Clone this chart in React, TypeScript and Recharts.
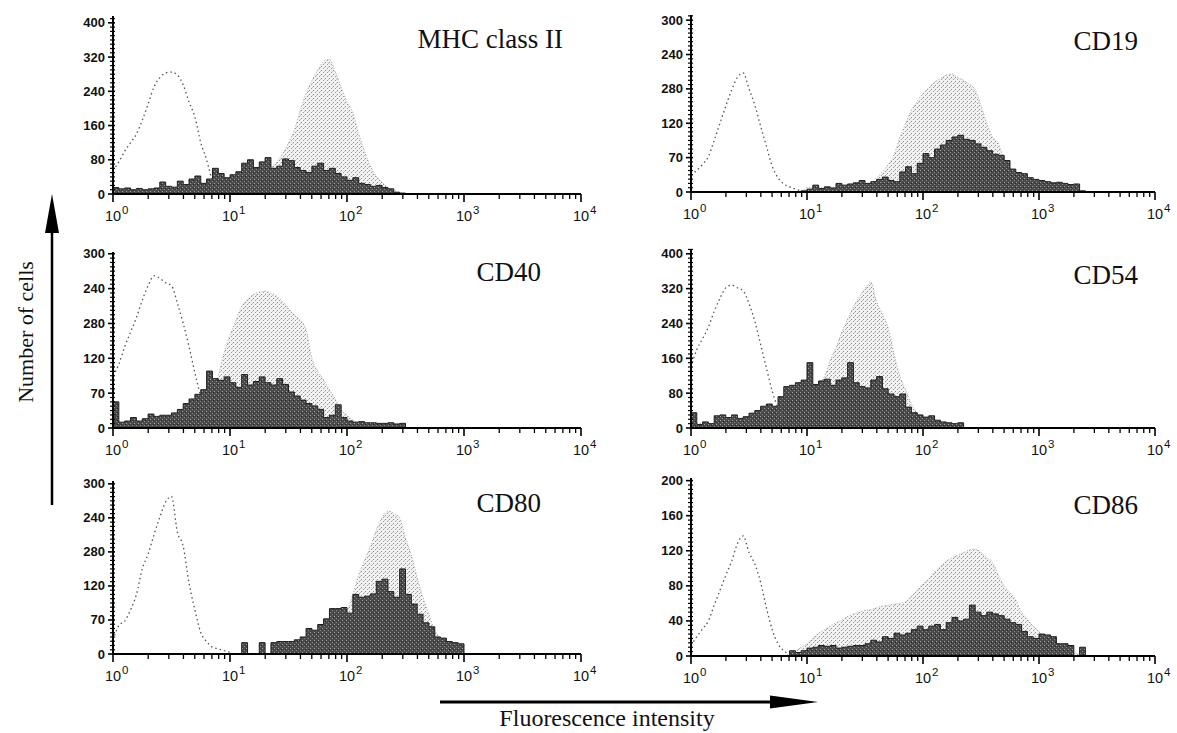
import React from 'react';
import { ComposedChart, Area, Line, XAxis, YAxis } from 'recharts';

// log10 of fluorescence intensity (channel centres)
const logIntensity = [
  0, 0.05, 0.1, 0.15, 0.2, 0.25, 0.3, 0.35, 0.4, 0.45,
  0.5, 0.55, 0.6, 0.65, 0.7, 0.75, 0.8, 0.85, 0.9, 0.95,
  1, 1.05, 1.1, 1.15, 1.2, 1.25, 1.3, 1.35, 1.4, 1.45,
  1.5, 1.55, 1.6, 1.65, 1.7, 1.75, 1.8, 1.85, 1.9, 1.95,
  2, 2.05, 2.1, 2.15, 2.2, 2.25, 2.3, 2.35, 2.4, 2.45,
  2.5, 2.55, 2.6, 2.65, 2.7, 2.75, 2.8, 2.85, 2.9, 2.95,
  3, 3.05, 3.1, 3.15, 3.2, 3.25, 3.3, 3.35, 3.4, 3.45,
  3.5, 3.55, 3.6, 3.65, 3.7, 3.75, 3.8, 3.85, 3.9, 3.95,
  4,
];

const mhcControl = [
  55, 75, 100, 120, 140, 172, 210, 250, 272, 283,
  285, 278, 255, 215, 180, 120, 80, 30, 8, 0,
  0, 0, 0, 0, 0, 0, 0, 0, 0, 0,
  0, 0, 0, 0, 0, 0, 0, 0, 0, 0,
  0, 0, 0, 0, 0, 0, 0, 0, 0, 0,
  0, 0, 0, 0, 0, 0, 0, 0, 0, 0,
  0, 0, 0, 0, 0, 0, 0, 0, 0, 0,
  0, 0, 0, 0, 0, 0, 0, 0, 0, 0,
  0,
];
const mhcStimulated = [
  0, 0, 0, 0, 0, 0, 0, 0, 0, 0,
  0, 0, 0, 0, 0, 0, 0, 20, 30, 30,
  30, 30, 30, 30, 30, 30, 30, 60, 75, 95,
  120, 150, 195, 235, 265, 290, 310, 315, 285, 250,
  215, 190, 140, 100, 66, 42, 28, 15, 8, 4,
  2, 0, 0, 0, 0, 0, 0, 0, 0, 0,
  0, 0, 0, 0, 0, 0, 0, 0, 0, 0,
  0, 0, 0, 0, 0, 0, 0, 0, 0, 0,
  0,
];
const mhcTreated = [
  15, 12, 14, 10, 13, 10, 12, 14, 28, 18,
  16, 30, 22, 35, 42, 25, 35, 60, 48, 38,
  45, 52, 72, 80, 62, 75, 85, 60, 65, 82,
  78, 62, 55, 50, 65, 72, 55, 60, 48, 40,
  32, 38, 25, 22, 18, 20, 15, 12, 4, 2,
  0, 0, 0, 0, 0, 0, 0, 0, 0, 0,
  0, 0, 0, 0, 0, 0, 0, 0, 0, 0,
  0, 0, 0, 0, 0, 0, 0, 0, 0, 0,
  0,
];

const cd19Control = [
  30, 38, 48, 62, 90, 120, 150, 178, 200, 208,
  180, 152, 115, 80, 45, 25, 14, 9, 5, 2,
  0, 0, 0, 0, 0, 0, 0, 0, 0, 0,
  0, 0, 0, 0, 0, 0, 0, 0, 0, 0,
  0, 0, 0, 0, 0, 0, 0, 0, 0, 0,
  0, 0, 0, 0, 0, 0, 0, 0, 0, 0,
  0, 0, 0, 0, 0, 0, 0, 0, 0, 0,
  0, 0, 0, 0, 0, 0, 0, 0, 0, 0,
  0,
];
const cd19Stimulated = [
  0, 0, 0, 0, 0, 0, 0, 0, 0, 0,
  0, 0, 0, 0, 0, 0, 0, 0, 0, 0,
  8, 8, 8, 8, 8, 8, 8, 8, 8, 8,
  8, 15, 25, 35, 48, 65, 95, 120, 143, 158,
  172, 182, 192, 198, 204, 206, 200, 195, 188, 178,
  150, 120, 96, 85, 55, 32, 20, 15, 12, 10,
  8, 6, 4, 2, 0, 0, 0, 0, 0, 0,
  0, 0, 0, 0, 0, 0, 0, 0, 0, 0,
  0,
];
const cd19Treated = [
  0, 0, 0, 0, 0, 0, 0, 0, 0, 0,
  0, 0, 0, 0, 0, 0, 0, 0, 0, 2,
  5, 12, 6, 9, 7, 15, 12, 14, 16, 20,
  15, 18, 22, 26, 20, 18, 35, 44, 32, 50,
  67, 60, 75, 82, 90, 96, 99, 92, 90, 84,
  78, 72, 66, 64, 55, 40, 34, 32, 25, 22,
  20, 18, 16, 17, 15, 13, 14, 2, 0, 0,
  0, 0, 0, 0, 0, 0, 0, 0, 0, 0,
  0,
];

const cd40Control = [
  90, 110, 140, 165, 190, 220, 245, 262, 258, 250,
  245, 215, 180, 140, 95, 55, 30, 12, 4, 0,
  0, 0, 0, 0, 0, 0, 0, 0, 0, 0,
  0, 0, 0, 0, 0, 0, 0, 0, 0, 0,
  0, 0, 0, 0, 0, 0, 0, 0, 0, 0,
  0, 0, 0, 0, 0, 0, 0, 0, 0, 0,
  0, 0, 0, 0, 0, 0, 0, 0, 0, 0,
  0, 0, 0, 0, 0, 0, 0, 0, 0, 0,
  0,
];
const cd40Stimulated = [
  10, 10, 10, 10, 10, 10, 10, 10, 10, 10,
  10, 10, 10, 10, 10, 10, 30, 55, 90, 130,
  160, 185, 210, 222, 230, 234, 236, 232, 227, 218,
  206, 195, 186, 170, 120, 98, 83, 66, 50, 32,
  22, 14, 8, 4, 0, 0, 0, 0, 0, 0,
  0, 0, 0, 0, 0, 0, 0, 0, 0, 0,
  0, 0, 0, 0, 0, 0, 0, 0, 0, 0,
  0, 0, 0, 0, 0, 0, 0, 0, 0, 0,
  0,
];
const cd40Treated = [
  45, 10, 12, 18, 12, 16, 24, 20, 22, 22,
  26, 32, 42, 50, 58, 66, 98, 85, 82, 88,
  78, 70, 92, 74, 80, 88, 78, 74, 85, 75,
  62, 55, 48, 42, 38, 32, 18, 22, 40, 18,
  12, 10, 11, 9, 9, 8, 8, 9, 7, 8,
  0, 0, 0, 0, 0, 0, 0, 0, 0, 0,
  0, 0, 0, 0, 0, 0, 0, 0, 0, 0,
  0, 0, 0, 0, 0, 0, 0, 0, 0, 0,
  0,
];

const cd54Control = [
  140, 180, 205, 232, 268, 298, 322, 328, 322, 315,
  286, 245, 192, 138, 85, 45, 20, 8, 2, 0,
  0, 0, 0, 0, 0, 0, 0, 0, 0, 0,
  0, 0, 0, 0, 0, 0, 0, 0, 0, 0,
  0, 0, 0, 0, 0, 0, 0, 0, 0, 0,
  0, 0, 0, 0, 0, 0, 0, 0, 0, 0,
  0, 0, 0, 0, 0, 0, 0, 0, 0, 0,
  0, 0, 0, 0, 0, 0, 0, 0, 0, 0,
  0,
];
const cd54Stimulated = [
  10, 10, 10, 10, 10, 10, 10, 10, 10, 10,
  10, 10, 10, 10, 10, 10, 10, 10, 10, 40,
  60, 80, 100, 118, 155, 185, 220, 250, 278, 300,
  320, 335, 290, 262, 230, 170, 120, 88, 55, 35,
  20, 10, 4, 0, 0, 0, 0, 0, 0, 0,
  0, 0, 0, 0, 0, 0, 0, 0, 0, 0,
  0, 0, 0, 0, 0, 0, 0, 0, 0, 0,
  0, 0, 0, 0, 0, 0, 0, 0, 0, 0,
  0,
];
const cd54Treated = [
  35, 8, 14, 10, 28, 30, 24, 30, 22, 26,
  34, 40, 50, 55, 50, 72, 95, 98, 104, 110,
  150, 100, 108, 112, 98, 110, 115, 150, 104, 95,
  92, 110, 118, 90, 78, 72, 78, 48, 35, 30,
  25, 28, 18, 14, 12, 10, 12, 0, 0, 0,
  0, 0, 0, 0, 0, 0, 0, 0, 0, 0,
  0, 0, 0, 0, 0, 0, 0, 0, 0, 0,
  0, 0, 0, 0, 0, 0, 0, 0, 0, 0,
  0,
];

const cd80Control = [
  25, 50, 58, 78, 105, 150, 176, 210, 241, 268,
  278, 215, 190, 125, 78, 38, 22, 12, 9, 6,
  3, 0, 0, 0, 0, 0, 0, 0, 0, 0,
  0, 0, 0, 0, 0, 0, 0, 0, 0, 0,
  0, 0, 0, 0, 0, 0, 0, 0, 0, 0,
  0, 0, 0, 0, 0, 0, 0, 0, 0, 0,
  0, 0, 0, 0, 0, 0, 0, 0, 0, 0,
  0, 0, 0, 0, 0, 0, 0, 0, 0, 0,
  0,
];
const cd80Stimulated = [
  0, 0, 0, 0, 0, 0, 0, 0, 0, 0,
  0, 0, 0, 0, 0, 0, 0, 0, 0, 0,
  0, 0, 0, 0, 0, 0, 0, 0, 0, 0,
  0, 0, 0, 0, 0, 10, 18, 25, 40, 58,
  76, 105, 140, 165, 190, 218, 240, 252, 248, 240,
  205, 175, 135, 100, 70, 42, 28, 18, 10, 4,
  0, 0, 0, 0, 0, 0, 0, 0, 0, 0,
  0, 0, 0, 0, 0, 0, 0, 0, 0, 0,
  0,
];
const cd80Treated = [
  0, 0, 0, 0, 0, 0, 0, 0, 0, 0,
  0, 0, 0, 0, 0, 0, 0, 0, 0, 0,
  0, 0, 20, 0, 0, 20, 0, 20, 22, 22,
  22, 25, 30, 45, 42, 52, 62, 80, 80, 82,
  72, 105, 100, 102, 106, 128, 132, 110, 100, 150,
  105, 88, 70, 55, 48, 30, 28, 22, 20, 18,
  0, 0, 0, 0, 0, 0, 0, 0, 0, 0,
  0, 0, 0, 0, 0, 0, 0, 0, 0, 0,
  0,
];

const cd86Control = [
  12, 22, 31, 40, 58, 75, 92, 108, 128, 137,
  118, 105, 84, 55, 30, 14, 6, 2, 0, 0,
  0, 0, 0, 0, 0, 0, 0, 0, 0, 0,
  0, 0, 0, 0, 0, 0, 0, 0, 0, 0,
  0, 0, 0, 0, 0, 0, 0, 0, 0, 0,
  0, 0, 0, 0, 0, 0, 0, 0, 0, 0,
  0, 0, 0, 0, 0, 0, 0, 0, 0, 0,
  0, 0, 0, 0, 0, 0, 0, 0, 0, 0,
  0,
];
const cd86Stimulated = [
  0, 0, 0, 0, 0, 0, 0, 0, 0, 0,
  0, 0, 0, 0, 0, 0, 0, 3, 6, 10,
  14, 20, 26, 30, 34, 38, 41, 45, 48, 50,
  52, 53, 55, 57, 58, 59, 60, 62, 68, 75,
  82, 88, 96, 102, 108, 112, 115, 118, 121, 122,
  118, 112, 107, 92, 80, 72, 64, 50, 42, 34,
  28, 18, 13, 10, 8, 6, 4, 2, 0, 0,
  0, 0, 0, 0, 0, 0, 0, 0, 0, 0,
  0,
];
const cd86Treated = [
  0, 0, 0, 0, 0, 0, 0, 0, 0, 0,
  0, 0, 0, 0, 0, 0, 0, 6, 4, 6,
  9, 10, 12, 11, 12, 9, 10, 11, 12, 12,
  14, 18, 16, 22, 20, 26, 24, 26, 30, 34,
  30, 34, 36, 30, 38, 44, 40, 42, 58, 50,
  46, 50, 48, 46, 42, 38, 36, 28, 22, 20,
  25, 24, 22, 14, 14, 12, 0, 10, 0, 0,
  0, 0, 0, 0, 0, 0, 0, 0, 0, 0,
  0,
];

// tick labels
const xDecades = [0, 1, 2, 3, 4];
const xExponentLabels = ['0', '1', '2', '3', '4'];
const yLabels400 = ['0', '80', '160', '240', '320', '400'];
const yLabels300 = ['0', '70', '120', '280', '240', '300'];
const yLabels200 = ['0', '40', '80', '120', '160', '200'];
const panelTitles = ['MHC class II', 'CD19', 'CD40', 'CD54', 'CD80', 'CD86'];

const SANS = "'Liberation Sans', Arial, sans-serif";
const SERIF = "'Liberation Serif', 'Times New Roman', serif";

const minorX: number[] = [];
for (let d = 0; d < 4; d++) {
  for (let k = 2; k <= 9; k++) minorX.push(d + Math.log10(k));
}
const X_TICKS = [...xDecades, ...minorX].sort((a, b) => a - b);

const panels = [
  { title: panelTitles[0], ctrl: mhcControl, light: mhcStimulated, dark: mhcTreated, labels: yLabels400, step: 80, max: 416,
    left: 113, right: 581, top: 16, zero: 194, titleX: 563, titleY: 48 },
  { title: panelTitles[1], ctrl: cd19Control, light: cd19Stimulated, dark: cd19Treated, labels: yLabels300, step: 60, max: 309,
    left: 691, right: 1155, top: 15, zero: 192, titleX: 1138, titleY: 50 },
  { title: panelTitles[2], ctrl: cd40Control, light: cd40Stimulated, dark: cd40Treated, labels: yLabels300, step: 60, max: 303,
    left: 113, right: 581, top: 252, zero: 428, titleX: 541, titleY: 281 },
  { title: panelTitles[3], ctrl: cd54Control, light: cd54Stimulated, dark: cd54Treated, labels: yLabels400, step: 80, max: 411,
    left: 691, right: 1155, top: 249, zero: 428, titleX: 1138, titleY: 284 },
  { title: panelTitles[4], ctrl: cd80Control, light: cd80Stimulated, dark: cd80Treated, labels: yLabels300, step: 60, max: 305,
    left: 113, right: 581, top: 481, zero: 654, titleX: 541, titleY: 512 },
  { title: panelTitles[5], ctrl: cd86Control, light: cd86Stimulated, dark: cd86Treated, labels: yLabels200, step: 40, max: 203,
    left: 691, right: 1155, top: 478, zero: 656, titleX: 1138, titleY: 514 },
];

type PanelCfg = typeof panels[number];

const RIGHT_PAD = 22;

function Panel({ p }: { p: PanelCfg }) {
  const data = logIntensity.map((x, i) => ({
    x,
    ctrl: p.ctrl[i] > 0 || i === 0 ? p.ctrl[i] : null,
    light: p.light[i],
    dark: p.dark[i],
  }));
  const pw = p.right - p.left;
  const ph = p.zero - p.top;
  const minorStep = p.step / 8;
  const yTicks: number[] = [];
  for (let v = 0; v <= p.max + 1e-6; v += minorStep) yTicks.push(Math.round(v * 1000) / 1000);

  const renderXTick = (props: any) => {
    const { x, y, payload } = props;
    const v = payload.value;
    const idx = xDecades.findIndex((d) => Math.abs(d - v) < 1e-6);
    if (idx >= 0) {
      return (
        <g>
          <line x1={x} y1={y} x2={x} y2={y + 8} stroke="#000" strokeWidth={1.6} />
          <text x={x} y={y + 27} textAnchor="middle" fontFamily={SANS} fontSize={14.5} fill="#111">10</text>
          <text x={x + 9} y={y + 20} textAnchor="start" fontFamily={SANS} fontSize={11.5} fill="#111">{xExponentLabels[idx]}</text>
        </g>
      );
    }
    return <line x1={x} y1={y} x2={x} y2={y + 5} stroke="#000" strokeWidth={1.3} />;
  };

  const renderYTick = (props: any) => {
    const { x, y, payload } = props;
    const v = payload.value;
    const k = v / p.step;
    const isMajor = Math.abs(k - Math.round(k)) < 1e-6;
    if (isMajor) {
      const label = p.labels[Math.round(k)];
      return (
        <g>
          <line x1={x - 5} y1={y} x2={x + 2} y2={y} stroke="#000" strokeWidth={1.6} />
          <text x={x - 8} y={y + 4.5} textAnchor="end" fontFamily={SANS} fontSize={13} fontWeight="bold" fill="#111">{label}</text>
        </g>
      );
    }
    return <line x1={x - 3} y1={y} x2={x + 2} y2={y} stroke="#000" strokeWidth={1.2} />;
  };

  return (
    <div style={{ position: 'absolute', left: p.left - 60, top: p.top - 10 }}>
      <ComposedChart width={pw + 60 + RIGHT_PAD} height={ph + 50} data={data}
        margin={{ top: 10, right: RIGHT_PAD, bottom: 0, left: 0 }}>
        <XAxis dataKey="x" type="number" domain={[0, 4]} ticks={X_TICKS} interval={0} tickSize={0} tickMargin={0}
          tickLine={false} axisLine={{ stroke: '#000', strokeWidth: 2 }} height={40} tick={renderXTick} allowDataOverflow />
        <XAxis xAxisId="top" orientation="top" dataKey="x" type="number" domain={[0, 4]} height={0} tick={false}
          tickLine={false} axisLine={{ stroke: '#111', strokeWidth: 1.8 }} />
        <YAxis type="number" domain={[0, p.max]} ticks={yTicks} interval={0} tickSize={0} tickMargin={0}
          tickLine={false} axisLine={{ stroke: '#000', strokeWidth: 2 }} width={60} tick={renderYTick} allowDataOverflow />
        <YAxis yAxisId="right" orientation="right" type="number" domain={[0, 1]} width={0} tick={false}
          tickLine={false} axisLine={{ stroke: '#111', strokeWidth: 1.5 }} />
        <Area dataKey="light" type="monotone" fill="url(#stipple)" fillOpacity={1} stroke="#a8a8a8" strokeWidth={1}
          strokeDasharray="1 2" isAnimationActive={false} dot={false} activeDot={false} />
        <Area dataKey="dark" type="stepAfter" fill="url(#speckle)" fillOpacity={1} stroke="#1e1e1e" strokeWidth={1}
          isAnimationActive={false} dot={false} activeDot={false} />
        <Line dataKey="ctrl" type="monotone" stroke="#555" strokeWidth={1.3} strokeDasharray="1.5 3"
          dot={false} activeDot={false} isAnimationActive={false} connectNulls={false} />
      </ComposedChart>
    </div>
  );
}

export default function App() {
  return (
    <div style={{ position: 'absolute', left: 0, top: 0, width: 1177, height: 733, background: '#fff', overflow: 'hidden' }}>
      <svg width={0} height={0} style={{ position: 'absolute' }}>
        <defs>
          <pattern id="stipple" width={4} height={4} patternUnits="userSpaceOnUse">
            <rect width={4} height={4} fill="#f2f2f2" />
            <rect x={0} y={0} width={1} height={1} fill="#8c8c8c" />
            <rect x={2} y={2} width={1} height={1} fill="#9a9a9a" />
            <rect x={3} y={1} width={1} height={1} fill="#c4c4c4" />
          </pattern>
          <pattern id="speckle" width={4} height={4} patternUnits="userSpaceOnUse">
            <rect width={4} height={4} fill="#4a4a4a" />
            <rect x={1} y={1} width={1} height={1} fill="#a0a0a0" />
            <rect x={3} y={3} width={1} height={1} fill="#8a8a8a" />
            <rect x={0} y={2} width={1} height={1} fill="#2a2a2a" />
          </pattern>
        </defs>
      </svg>
      {panels.map((p) => (
        <Panel key={p.title} p={p} />
      ))}
      <svg width={1177} height={733} style={{ position: 'absolute', left: 0, top: 0, pointerEvents: 'none' }}>
        {panels.map((p) => (
          <text key={p.title} x={p.titleX} y={p.titleY} textAnchor="end" fontFamily={SERIF} fontSize={27} fill="#111">
            {p.title}
          </text>
        ))}
        <text x={33} y={332} transform="rotate(-90 33 332)" textAnchor="middle" fontFamily={SERIF} fontSize={22} fill="#111">
          Number of cells
        </text>
        <line x1={52} y1={505} x2={52} y2={225} stroke="#000" strokeWidth={2.5} />
        <polygon points="52,194 45,233 59,233" fill="#000" />
        <line x1={440} y1={702} x2={775} y2={702} stroke="#000" strokeWidth={3} />
        <polygon points="818,702 770,695.5 770,708.5" fill="#000" />
        <text x={607} y={726} textAnchor="middle" fontFamily={SERIF} fontSize={24} fill="#111">
          Fluorescence intensity
        </text>
      </svg>
    </div>
  );
}
